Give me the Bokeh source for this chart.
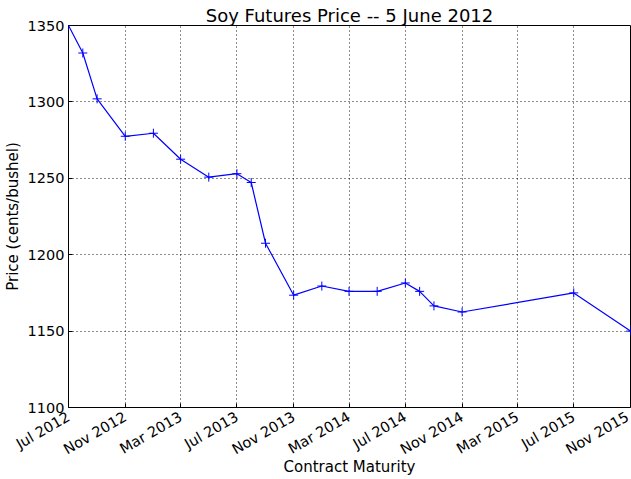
from datetime import datetime
import math
from bokeh.plotting import figure
from bokeh.models import ColumnDataSource, Range1d, FixedTicker, DatetimeTickFormatter
from bokeh.embed import file_html
from bokeh.resources import INLINE

# Data
maturities = [datetime(2012, 7, 1), datetime(2012, 8, 1), datetime(2012, 9, 1), datetime(2012, 11, 1),
              datetime(2013, 1, 1), datetime(2013, 3, 1), datetime(2013, 5, 1), datetime(2013, 7, 1),
              datetime(2013, 8, 1), datetime(2013, 9, 1), datetime(2013, 11, 1), datetime(2014, 1, 1),
              datetime(2014, 3, 1), datetime(2014, 5, 1), datetime(2014, 7, 1), datetime(2014, 8, 1),
              datetime(2014, 9, 1), datetime(2014, 11, 1), datetime(2015, 7, 1), datetime(2015, 11, 1)]
prices = [1350.0, 1332.0, 1302.0, 1277.5, 1279.5, 1262.5, 1250.75, 1253.0,
          1247.25, 1207.5, 1173.5, 1179.5, 1176.0, 1176.0, 1181.5, 1176.0,
          1166.5, 1162.5, 1175.0, 1150.0]
tick_dates = [datetime(2012, 7, 1), datetime(2012, 11, 1), datetime(2013, 3, 1), datetime(2013, 7, 1),
              datetime(2013, 11, 1), datetime(2014, 3, 1), datetime(2014, 7, 1), datetime(2014, 11, 1),
              datetime(2015, 3, 1), datetime(2015, 7, 1), datetime(2015, 11, 1)]
y_ticks = [1100, 1150, 1200, 1250, 1300, 1350]

FONT = "DejaVu Sans"

def ms(d):
    return (d - datetime(1970, 1, 1)).total_seconds() * 1000.0

src = ColumnDataSource(data=dict(x=maturities, y=prices))

p = figure(width=631, height=479, output_backend="svg", toolbar_location=None,
           x_axis_type="datetime",
           x_range=Range1d(start=tick_dates[0], end=tick_dates[-1]),
           y_range=Range1d(start=1100, end=1350),
           min_border_left=68, min_border_right=1, min_border_top=25, min_border_bottom=72,
           title="Soy Futures Price -- 5 June 2012")

p.title.text_font = FONT
p.title.text_font_size = "18px"
p.title.text_font_style = "normal"
p.title.text_color = "black"
p.title.align = "center"
p.title.standoff = 0
p.title.offset = 0

p.outline_line_color = "black"
p.outline_line_width = 1
p.outline_line_alpha = 1
p.background_fill_color = "white"
p.border_fill_color = "white"

xt = FixedTicker(ticks=[ms(d) for d in tick_dates])
fmt = DatetimeTickFormatter(days="%b %Y", months="%b %Y", years="%b %Y",
                            hours="%b %Y", minutes="%b %Y", seconds="%b %Y")

xa = p.xaxis[0]
xa.ticker = xt
xa.formatter = fmt
xa.major_label_orientation = math.pi / 6
xa.axis_label = "Contract Maturity"

ya = p.yaxis[0]
ya.ticker = FixedTicker(ticks=y_ticks)
ya.axis_label = "Price (cents/bushel)"

for ax in [xa, ya]:
    ax.axis_line_color = None
    ax.major_tick_in = 4
    ax.major_tick_out = 0
    ax.minor_tick_line_color = None
    ax.major_tick_line_color = "black"
    ax.major_label_text_font = FONT
    ax.major_label_text_font_size = "14.5px"
    ax.major_label_text_color = "black"
    ax.axis_label_text_font = FONT
    ax.axis_label_text_font_size = "15px"
    ax.axis_label_text_font_style = "normal"
    ax.axis_label_text_color = "black"

xa.major_label_standoff = 8
xa.axis_label_standoff = -9
ya.major_label_standoff = 4
ya.axis_label_standoff = 3

for g in [p.xgrid[0], p.ygrid[0]]:
    g.grid_line_color = "black"
    g.grid_line_dash = "1 3"
    g.grid_line_width = 1
    g.grid_line_alpha = 0.9
p.xgrid[0].ticker = xt
p.ygrid[0].ticker = FixedTicker(ticks=y_ticks)

p.line("x", "y", source=src, line_color="#0000ff", line_width=1.2)
p.scatter("x", "y", source=src, marker="cross", size=9, line_color="#0000ff", line_width=1)

open("out.html", "w").write(file_html(p, INLINE))
